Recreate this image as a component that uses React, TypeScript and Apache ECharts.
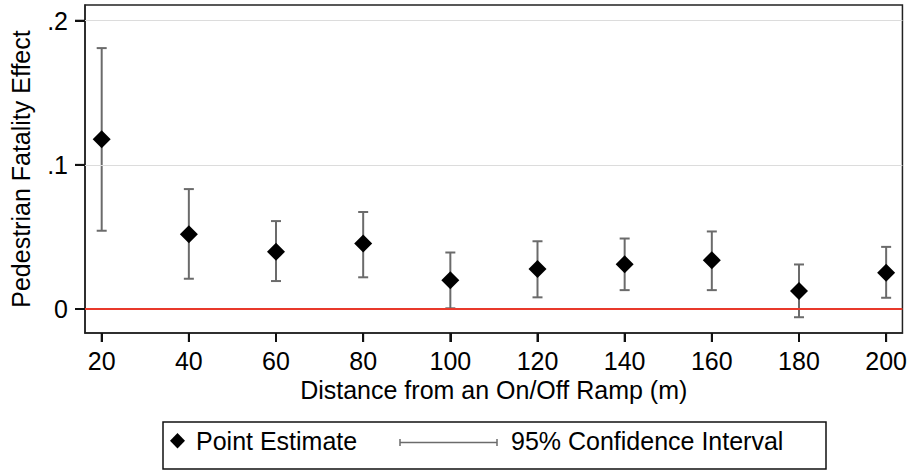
import React, { useEffect, useRef } from "react";
import * as echarts from "echarts";

const distances = [20, 40, 60, 80, 100, 120, 140, 160, 180, 200];
const estimates = [0.1177, 0.0518, 0.0397, 0.0455, 0.0199, 0.0277, 0.0311, 0.0339, 0.0125, 0.0251];
const lowerCI = [0.0543, 0.021, 0.0194, 0.022, 0.0005, 0.0081, 0.0131, 0.0131, -0.0057, 0.0078];
const upperCI = [0.181, 0.0832, 0.061, 0.0673, 0.0392, 0.047, 0.0489, 0.0538, 0.0309, 0.0431];
const xTicks = [20, 40, 60, 80, 100, 120, 140, 160, 180, 200];
const yTicks = [0, 0.1, 0.2];

const FONT = "'Liberation Sans', Arial, Helvetica, sans-serif";
const FS = 25;
const X_MIN = 16.17;
const X_MAX = 203.74;
const Y_MIN = -0.01664;
const Y_MAX = 0.2109;

const GRID = { left: 85, top: 5, width: 818, height: 328 };

export default function App() {
  const ref = useRef<HTMLDivElement>(null);
  useEffect(() => {
    if (!ref.current) return;
    const chart = echarts.init(ref.current, undefined, { renderer: "svg" });
    const fmtY = (v: number) => (v === 0 ? "0" : String(Math.round(v * 10) / 10).replace("0.", "."));
    chart.setOption({
      animation: false,
      backgroundColor: "#fff",
      textStyle: { fontFamily: FONT },
      grid: {
        left: GRID.left,
        top: GRID.top,
        width: GRID.width,
        height: GRID.height,
        show: true,
        borderColor: "#222",
        borderWidth: 1.5,
        backgroundColor: "transparent",
      },
      xAxis: {
        type: "value",
        min: X_MIN,
        max: X_MAX,
        name: "Distance from an On/Off Ramp (m)",
        nameLocation: "middle",
        nameGap: 43,
        nameTextStyle: { fontSize: FS, color: "#000", fontFamily: FONT },
        axisLine: { show: true, onZero: false, lineStyle: { color: "#222", width: 1.5 } },
        axisTick: { show: true, inside: false, length: 9, customValues: xTicks, lineStyle: { color: "#111", width: 2 } },
        axisLabel: { customValues: xTicks, fontSize: FS, color: "#000", margin: 15, fontFamily: FONT },
        splitLine: { show: false },
      },
      yAxis: {
        type: "value",
        min: Y_MIN,
        max: Y_MAX,
        name: "Pedestrian Fatality Effect",
        nameLocation: "middle",
        nameGap: 52,
        nameTextStyle: { fontSize: FS, color: "#000", fontFamily: FONT },
        axisLine: { show: true, onZero: false, lineStyle: { color: "#222", width: 1.5 } },
        axisTick: { show: true, inside: false, length: 10, customValues: yTicks, lineStyle: { color: "#111", width: 2 } },
        axisLabel: { customValues: yTicks, fontSize: FS, color: "#000", margin: 17, formatter: fmtY, fontFamily: FONT },
        splitLine: { show: false },
      },
      series: [
        {
          type: "line",
          data: [],
          silent: true,
          markLine: {
            silent: true,
            symbol: "none",
            label: { show: false },
            data: [
              { yAxis: 0.1, lineStyle: { color: "#dcdcdc", width: 1, type: "solid" } },
              { yAxis: 0.2, lineStyle: { color: "#dcdcdc", width: 1, type: "solid" } },
              { yAxis: 0, lineStyle: { color: "#e8392b", width: 2, type: "solid" } },
            ],
          },
        },
        {
          type: "custom",
          name: "95% Confidence Interval",
          data: distances.map((d, i) => [d, lowerCI[i], upperCI[i]]),
          z: 3,
          renderItem: (params: any, api: any) => {
            const x = api.value(0);
            const lo = api.coord([x, api.value(1)]);
            const hi = api.coord([x, api.value(2)]);
            const hw = 5;
            const style = { stroke: "#6b6b6b", lineWidth: 2 };
            return {
              type: "group",
              children: [
                { type: "line", shape: { x1: lo[0], y1: lo[1], x2: hi[0], y2: hi[1] }, style },
                { type: "line", shape: { x1: lo[0] - hw, y1: lo[1], x2: lo[0] + hw, y2: lo[1] }, style },
                { type: "line", shape: { x1: hi[0] - hw, y1: hi[1], x2: hi[0] + hw, y2: hi[1] }, style },
              ],
            };
          },
        },
        {
          type: "scatter",
          name: "Point Estimate",
          data: distances.map((d, i) => [d, estimates[i]]),
          symbol: "diamond",
          symbolSize: [18, 18],
          itemStyle: { color: "#000", opacity: 1 },
          z: 4,
        },
      ],
    });

    const tickStyle = { stroke: "#111", lineWidth: 2, fill: "none" };
    const tickEls: any[] = [];
    const bottomY = GRID.top + GRID.height;
    const leftX = GRID.left;
    xTicks.forEach((v) => {
      const px = chart.convertToPixel({ xAxisIndex: 0 }, v) as number;
      tickEls.push({ type: "polyline", z: 100, silent: true, shape: { points: [[px, bottomY], [px, bottomY + 9]] }, style: tickStyle });
    });
    yTicks.forEach((v) => {
      const py = chart.convertToPixel({ yAxisIndex: 0 }, v) as number;
      tickEls.push({ type: "polyline", z: 100, silent: true, shape: { points: [[leftX - 10, py], [leftX, py]] }, style: tickStyle });
    });

    chart.setOption({
      graphic: [
        ...tickEls,
        {
          type: "rect",
          shape: { x: 163, y: 422, width: 663, height: 47 },
          style: { fill: "#fff", stroke: "#111", lineWidth: 1.5 },
        },
        {
          type: "polygon",
          shape: { points: [[177.5, 433], [185, 440.7], [177.5, 448.4], [170, 440.7]] },
          style: { fill: "#000" },
        },
        {
          type: "text",
          x: 196,
          y: 441,
          style: { text: "Point Estimate", fontSize: FS, fill: "#000", fontFamily: FONT, textVerticalAlign: "middle", verticalAlign: "middle" },
        },
        { type: "line", shape: { x1: 400, y1: 442.5, x2: 497, y2: 442.5 }, style: { stroke: "#6b6b6b", lineWidth: 1.5 } },
        { type: "line", shape: { x1: 400, y1: 439, x2: 400, y2: 446 }, style: { stroke: "#6b6b6b", lineWidth: 1.5 } },
        { type: "line", shape: { x1: 497, y1: 439, x2: 497, y2: 446 }, style: { stroke: "#6b6b6b", lineWidth: 1.5 } },
        {
          type: "text",
          x: 511,
          y: 441,
          style: { text: "95% Confidence Interval", fontSize: FS, fill: "#000", fontFamily: FONT, textVerticalAlign: "middle", verticalAlign: "middle" },
        },
      ],
    });
    return () => chart.dispose();
  }, []);
  return <div ref={ref} style={{ position: "fixed", left: 0, top: 0, width: 910, height: 472 }} />;
}
